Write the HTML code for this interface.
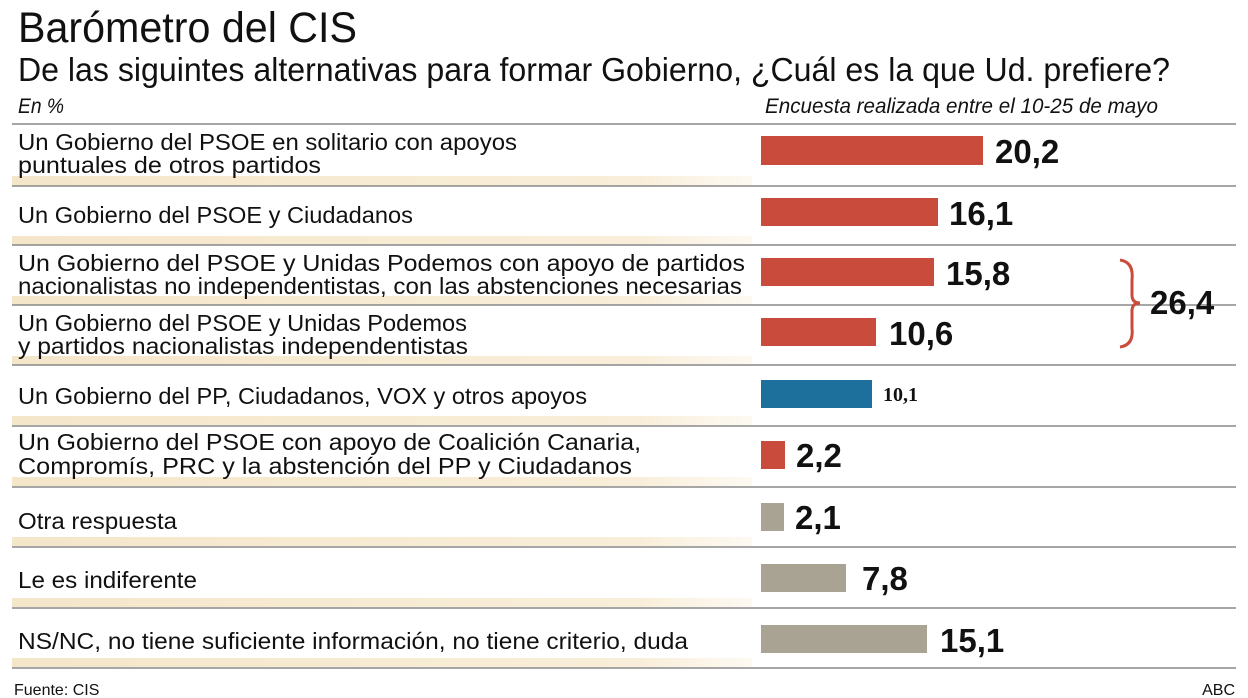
<!DOCTYPE html>
<html><head><meta charset="utf-8"><style>
html,body{margin:0;padding:0;background:#fff;width:1248px;height:698px;overflow:hidden}
text{font-family:"Liberation Sans",sans-serif;fill:#111}
</style></head><body>
<svg width="1248" height="698" viewBox="0 0 1248 698" xmlns="http://www.w3.org/2000/svg">
<defs>
<linearGradient id="cr" x1="0" x2="1" y1="0" y2="0">
<stop offset="0" stop-color="#f3e3c3" stop-opacity="0.9"/>
<stop offset="0.85" stop-color="#f7ead0" stop-opacity="0.8"/>
<stop offset="1" stop-color="#fbf3e4" stop-opacity="0.5"/>
</linearGradient>
</defs>
<text x="18" y="42" font-size="43" textLength="339" lengthAdjust="spacingAndGlyphs">Barómetro del CIS</text>
<text x="18" y="81" font-size="33" textLength="1152" lengthAdjust="spacingAndGlyphs">De las siguintes alternativas para formar Gobierno, ¿Cuál es la que Ud. prefiere?</text>
<text x="18" y="113" font-size="21" font-style="italic" textLength="46" lengthAdjust="spacingAndGlyphs">En %</text>
<text x="765" y="113" font-size="21" font-style="italic" textLength="393" lengthAdjust="spacingAndGlyphs">Encuesta realizada entre el 10-25 de mayo</text>

<g fill="url(#cr)">
<rect x="12" y="176" width="740" height="10"/>
<rect x="12" y="236" width="740" height="9"/>
<rect x="12" y="296" width="740" height="9"/>
<rect x="12" y="356" width="740" height="9"/>
<rect x="12" y="416" width="740" height="9"/>
<rect x="12" y="477" width="740" height="9"/>
<rect x="12" y="537" width="740" height="9"/>
<rect x="12" y="598" width="740" height="9"/>
<rect x="12" y="658" width="740" height="9"/>
</g>
<g stroke="#888" stroke-width="1.5">
<line x1="12" x2="1236" y1="124" y2="124"/>
<line x1="12" x2="1236" y1="186" y2="186"/>
<line x1="12" x2="1236" y1="245" y2="245"/>
<line x1="12" x2="1236" y1="305" y2="305"/>
<line x1="12" x2="1236" y1="365" y2="365"/>
<line x1="12" x2="1236" y1="426" y2="426"/>
<line x1="12" x2="1236" y1="487" y2="487"/>
<line x1="12" x2="1236" y1="547" y2="547"/>
<line x1="12" x2="1236" y1="608" y2="608"/>
<line x1="12" x2="1236" y1="668" y2="668"/>
</g>

<g font-size="23">
<text x="18" y="150" textLength="499" lengthAdjust="spacingAndGlyphs">Un Gobierno del PSOE en solitario con apoyos</text>
<text x="18" y="173" textLength="303" lengthAdjust="spacingAndGlyphs">puntuales de otros partidos</text>
<text x="18" y="223" textLength="395" lengthAdjust="spacingAndGlyphs">Un Gobierno del PSOE y Ciudadanos</text>
<text x="18" y="271" textLength="727" lengthAdjust="spacingAndGlyphs">Un Gobierno del PSOE y Unidas Podemos con apoyo de partidos</text>
<text x="18" y="294" textLength="724" lengthAdjust="spacingAndGlyphs">nacionalistas no independentistas, con las abstenciones necesarias</text>
<text x="18" y="331" textLength="449" lengthAdjust="spacingAndGlyphs">Un Gobierno del PSOE y Unidas Podemos</text>
<text x="18" y="354" textLength="450" lengthAdjust="spacingAndGlyphs">y partidos nacionalistas independentistas</text>
<text x="18" y="404" textLength="569" lengthAdjust="spacingAndGlyphs">Un Gobierno del PP, Ciudadanos, VOX y otros apoyos</text>
<text x="18" y="450" textLength="623" lengthAdjust="spacingAndGlyphs">Un Gobierno del PSOE con apoyo de Coalición Canaria,</text>
<text x="18" y="474" textLength="614" lengthAdjust="spacingAndGlyphs">Compromís, PRC y la abstención del PP y Ciudadanos</text>
<text x="18" y="529" textLength="159" lengthAdjust="spacingAndGlyphs">Otra respuesta</text>
<text x="18" y="588" textLength="179" lengthAdjust="spacingAndGlyphs">Le es indiferente</text>
<text x="18" y="649" textLength="670" lengthAdjust="spacingAndGlyphs">NS/NC, no tiene suficiente información, no tiene criterio, duda</text>
</g>

<g>
<rect x="761" y="136" width="222" height="29" fill="#c94b3c"/>
<rect x="761" y="198" width="177" height="28" fill="#c94b3c"/>
<rect x="761" y="258" width="173" height="28" fill="#c94b3c"/>
<rect x="761" y="318" width="115" height="28" fill="#c94b3c"/>
<rect x="761" y="380" width="111" height="28" fill="#1d6f9c"/>
<rect x="761" y="441" width="24" height="28" fill="#c94b3c"/>
<rect x="761" y="503" width="23" height="28" fill="#a8a393"/>
<rect x="761" y="564" width="85" height="28" fill="#a8a393"/>
<rect x="761" y="625" width="166" height="28" fill="#a8a393"/>
</g>
<g font-size="33" font-weight="bold">
<text x="995" y="163">20,2</text>
<text x="949" y="225">16,1</text>
<text x="946" y="285">15,8</text>
<text x="889" y="345">10,6</text>
<text x="796" y="467">2,2</text>
<text x="795" y="529">2,1</text>
<text x="862" y="590">7,8</text>
<text x="940" y="652">15,1</text>
<text x="1150" y="314">26,4</text>
</g>
<text x="883" y="401" font-size="20" font-weight="bold" style="font-family:'Liberation Serif',serif">10,1</text>
<path d="M1120 260 Q1134 262 1132 280 L1132 295 Q1132 303 1140 303 Q1132 303 1132 311 L1132 328 Q1134 345 1120 347" fill="none" stroke="#c94b3c" stroke-width="3"/>
<text x="14" y="695" font-size="16">Fuente: CIS</text>
<text x="1235" y="695" font-size="16" text-anchor="end">ABC</text>
</svg>
</body></html>
